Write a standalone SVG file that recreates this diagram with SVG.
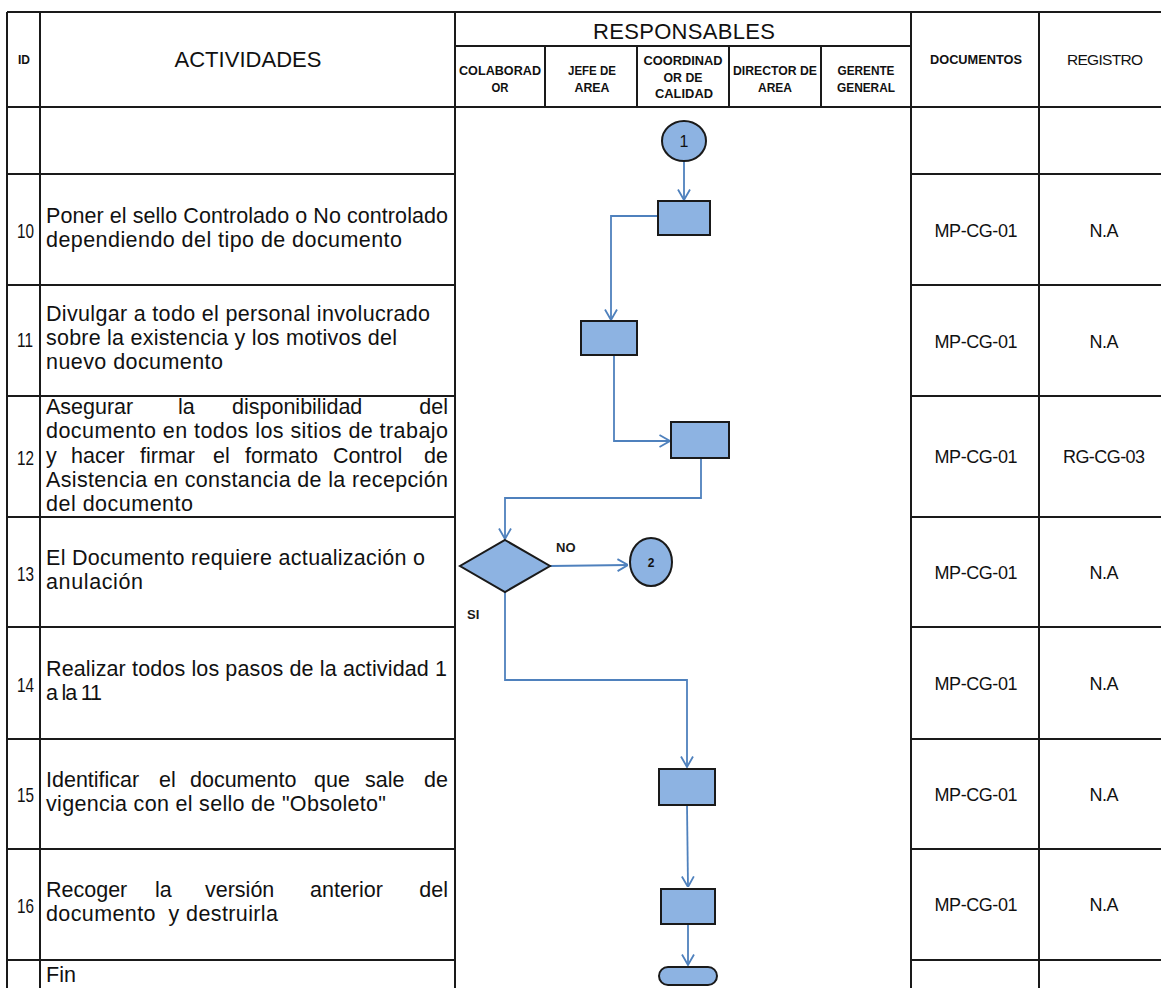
<svg xmlns="http://www.w3.org/2000/svg" width="1161" height="988" viewBox="0 0 1161 988">
<style>
.grid{stroke:#1a1a1a;stroke-width:2;fill:none}
.t{font-family:"Liberation Sans",Arial,sans-serif;font-size:21.5px;fill:#111}
.e{text-anchor:end}
.id{font-family:"Liberation Sans",Arial,sans-serif;font-size:21px;fill:#111}
.h{font-family:"Liberation Sans",Arial,sans-serif;font-size:22px;fill:#111;text-anchor:middle}
.hs{font-family:"Liberation Sans",Arial,sans-serif;font-size:12.5px;font-weight:bold;fill:#111;text-anchor:middle}
.c{font-family:"Liberation Sans",Arial,sans-serif;font-size:18px;fill:#111;text-anchor:middle}
.shape{fill:#8db3e2;stroke:#1a1a1a;stroke-width:2}
.conn{fill:none;stroke:#4f81bd;stroke-width:1.8}
.lbl{font-family:"Liberation Sans",Arial,sans-serif;font-size:13px;font-weight:bold;fill:#1a1a1a}
</style>
<defs>
<marker id="arr" viewBox="0 0 12 14" refX="11.5" refY="7" markerWidth="12" markerHeight="14" markerUnits="userSpaceOnUse" orient="auto">
<path d="M1,1 L11.5,7 L1,13" fill="none" stroke="#4f81bd" stroke-width="1.8"/>
</marker>
</defs>
<rect width="1161" height="988" fill="#fff"/>

<g id="table" class="grid">
<line x1="7" y1="12" x2="1161" y2="12"/>
<line x1="455" y1="46" x2="911" y2="46"/>
<line x1="7" y1="107" x2="1161" y2="107"/>
<line x1="7" y1="12" x2="7" y2="988"/>
<line x1="40" y1="12" x2="40" y2="988"/>
<line x1="455" y1="12" x2="455" y2="988"/>
<line x1="911" y1="12" x2="911" y2="988"/>
<line x1="1039" y1="12" x2="1039" y2="988"/>
<line x1="545" y1="46" x2="545" y2="107"/>
<line x1="637" y1="46" x2="637" y2="107"/>
<line x1="729" y1="46" x2="729" y2="107"/>
<line x1="821" y1="46" x2="821" y2="107"/>
<path d="M7,174H455M7,285H455M7,396H455M7,517H455M7,627H455M7,739H455M7,849H455M7,960H455"/>
<path d="M911,174H1161M911,285H1161M911,396H1161M911,517H1161M911,627H1161M911,739H1161M911,849H1161M911,960H1161"/>
</g>

<g id="headers">
<text class="hs" x="24" y="64" textLength="12" lengthAdjust="spacingAndGlyphs">ID</text>
<text class="h" x="248" y="67" textLength="147">ACTIVIDADES</text>
<text class="h" x="684" y="39" textLength="182">RESPONSABLES</text>
<text class="hs" x="500" y="75" textLength="82" lengthAdjust="spacingAndGlyphs">COLABORAD</text>
<text class="hs" x="500" y="92" textLength="17" lengthAdjust="spacingAndGlyphs">OR</text>
<text class="hs" x="592" y="75" textLength="48" lengthAdjust="spacingAndGlyphs">JEFE DE</text>
<text class="hs" x="592" y="92" textLength="35" lengthAdjust="spacingAndGlyphs">AREA</text>
<text class="hs" x="683" y="65" textLength="79" lengthAdjust="spacingAndGlyphs">COORDINAD</text>
<text class="hs" x="683" y="81.5" textLength="39" lengthAdjust="spacingAndGlyphs">OR DE</text>
<text class="hs" x="684" y="98" textLength="58" lengthAdjust="spacingAndGlyphs">CALIDAD</text>
<text class="hs" x="775" y="75" textLength="84" lengthAdjust="spacingAndGlyphs">DIRECTOR DE</text>
<text class="hs" x="775" y="92" textLength="34" lengthAdjust="spacingAndGlyphs">AREA</text>
<text class="hs" x="866" y="75" textLength="57" lengthAdjust="spacingAndGlyphs">GERENTE</text>
<text class="hs" x="866" y="92" textLength="58" lengthAdjust="spacingAndGlyphs">GENERAL</text>
<text class="hs" x="976" y="64" textLength="92" lengthAdjust="spacingAndGlyphs">DOCUMENTOS</text>
<text class="h" x="1105" y="65" style="font-size:15.5px" textLength="76">REGISTRO</text>
</g>

<g id="ids">
<text class="id" x="17" y="238" textLength="17" lengthAdjust="spacingAndGlyphs">10</text>
<text class="id" x="17" y="347" textLength="16" lengthAdjust="spacingAndGlyphs">11</text>
<text class="id" x="17" y="465" textLength="17" lengthAdjust="spacingAndGlyphs">12</text>
<text class="id" x="17" y="581" textLength="17" lengthAdjust="spacingAndGlyphs">13</text>
<text class="id" x="17" y="692" textLength="17" lengthAdjust="spacingAndGlyphs">14</text>
<text class="id" x="17" y="802" textLength="17" lengthAdjust="spacingAndGlyphs">15</text>
<text class="id" x="17" y="913" textLength="17" lengthAdjust="spacingAndGlyphs">16</text>
</g>

<g id="activities">
<text class="t" x="46" y="223" textLength="402">Poner el sello Controlado o No controlado</text>
<text class="t" x="46" y="247" textLength="356">dependiendo del tipo de documento</text>
<text class="t" x="46" y="321" textLength="384">Divulgar a todo el personal involucrado</text>
<text class="t" x="46" y="345" textLength="351">sobre la existencia y los motivos del</text>
<text class="t" x="46" y="369" textLength="177">nuevo documento</text>
<text class="t" y="414"><tspan x="46">Asegurar</tspan><tspan x="178">la</tspan><tspan x="232">disponibilidad</tspan></text>
<text class="t e" x="448" y="414">del</text>
<text class="t" x="46" y="438" textLength="402">documento en todos los sitios de trabajo</text>
<text class="t" y="463"><tspan x="46">y</tspan><tspan x="71">hacer</tspan><tspan x="140">firmar</tspan><tspan x="213">el</tspan><tspan x="245">formato</tspan><tspan x="333">Control</tspan></text>
<text class="t e" x="448" y="463">de</text>
<text class="t" x="46" y="487" textLength="402">Asistencia en constancia de la recepción</text>
<text class="t" x="46" y="511" textLength="147">del documento</text>
<text class="t" x="46" y="565" textLength="379">El Documento requiere actualización o</text>
<text class="t" x="46" y="589" textLength="97">anulación</text>
<text class="t" x="46" y="676" textLength="401">Realizar todos los pasos de la actividad 1</text>
<text class="t" x="46" y="700" textLength="56">a la 11</text>
<text class="t" y="787"><tspan x="46">Identificar</tspan><tspan x="159">el</tspan><tspan x="190">documento</tspan><tspan x="314">que</tspan><tspan x="365">sale</tspan></text>
<text class="t e" x="448" y="787">de</text>
<text class="t" x="46" y="811" textLength="340">vigencia con el sello de "Obsoleto"</text>
<text class="t" y="897"><tspan x="46">Recoger</tspan><tspan x="155">la</tspan><tspan x="205">versión</tspan><tspan x="310">anterior</tspan></text>
<text class="t e" x="448" y="897">del</text>
<text class="t" x="46" y="921" textLength="232" xml:space="preserve">documento  y destruirla</text>
<text class="t" x="46" y="982">Fin</text>
</g>

<g id="documents">
<text class="c" x="976" y="237" textLength="83">MP-CG-01</text>
<text class="c" x="976" y="348" textLength="83">MP-CG-01</text>
<text class="c" x="976" y="463" textLength="83">MP-CG-01</text>
<text class="c" x="976" y="579" textLength="83">MP-CG-01</text>
<text class="c" x="976" y="690" textLength="83">MP-CG-01</text>
<text class="c" x="976" y="801" textLength="83">MP-CG-01</text>
<text class="c" x="976" y="911" textLength="83">MP-CG-01</text>
</g>
<g id="registros">
<text class="c" x="1104" y="237" textLength="29">N.A</text>
<text class="c" x="1104" y="348" textLength="29">N.A</text>
<text class="c" x="1104" y="463" textLength="82">RG-CG-03</text>
<text class="c" x="1104" y="579" textLength="29">N.A</text>
<text class="c" x="1104" y="690" textLength="29">N.A</text>
<text class="c" x="1104" y="801" textLength="29">N.A</text>
<text class="c" x="1104" y="911" textLength="29">N.A</text>
</g>

<g id="connectors" class="conn">
<path d="M684,162 V200" marker-end="url(#arr)"/>
<path d="M658,216 H611 V320" marker-end="url(#arr)"/>
<path d="M614,356 V441 H670" marker-end="url(#arr)"/>
<path d="M701,458 V498 H505 V539" marker-end="url(#arr)"/>
<path d="M550,566 L628,565" marker-end="url(#arr)"/>
<path d="M505,592 V680 H687 V767" marker-end="url(#arr)"/>
<path d="M687,805 L688,887" marker-end="url(#arr)"/>
<path d="M688,924 V965" marker-end="url(#arr)"/>
</g>
<text class="lbl" x="556" y="552">NO</text>
<text class="lbl" x="467" y="619">SI</text>

<g id="start1">
<ellipse class="shape" cx="684" cy="141" rx="22" ry="20"/>
<text x="684" y="147" text-anchor="middle" style="font-family:'Liberation Sans',Arial,sans-serif;font-size:16px;fill:#111">1</text>
</g>
<g id="box10"><rect class="shape" x="658" y="201" width="52" height="34"/></g>
<g id="box11"><rect class="shape" x="581" y="321" width="56" height="34"/></g>
<g id="box12"><rect class="shape" x="671" y="422" width="58" height="36"/></g>
<g id="decision13"><polygon class="shape" points="505,540 550,566 505,592 460,566"/></g>
<g id="connector2">
<ellipse class="shape" cx="651" cy="562" rx="21" ry="24"/>
<text x="651" y="567" text-anchor="middle" style="font-family:'Liberation Sans',Arial,sans-serif;font-size:12px;font-weight:bold;fill:#111">2</text>
</g>
<g id="box15"><rect class="shape" x="659" y="769" width="56" height="36"/></g>
<g id="box16"><rect class="shape" x="661" y="889" width="54" height="35"/></g>
<g id="fin"><rect class="shape" x="659" y="967" width="58" height="18" rx="9"/></g>
</svg>
